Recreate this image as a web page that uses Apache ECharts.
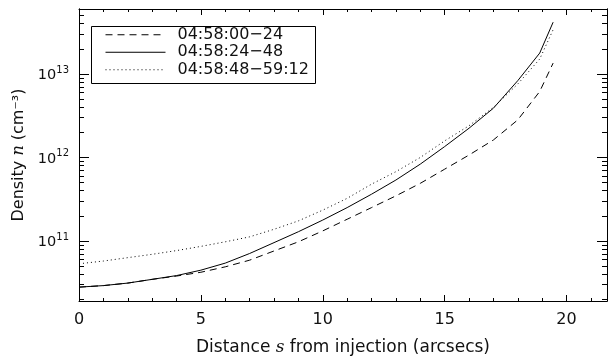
<!DOCTYPE html>
<html>
<head>
<meta charset="utf-8">
<script src="https://cdn.jsdelivr.net/npm/echarts@6/dist/echarts.min.js"></script>
<style>html,body{margin:0;padding:0;background:#fff}#c{width:609px;height:361px}</style>
</head>
<body>
<div id="c"></div>
<script>
// Distance s (arcsecs)
const distance = [0, 1, 2, 3, 4, 5, 6, 7, 8, 9, 10, 11, 12, 13, 14, 15, 16, 17, 18, 18.9, 19.45];
// Density n (cm^-3) for the three time intervals
const dens_0000_24 = [2.80e10, 2.92e10, 3.13e10, 3.47e10, 3.80e10, 4.22e10, 4.90e10, 5.89e10, 7.59e10, 9.77e10, 1.32e11, 1.82e11, 2.51e11, 3.47e11, 4.90e11, 7.24e11, 1.07e12, 1.62e12, 2.82e12, 6.17e12, 1.35e13];
const dens_2400_48 = [2.80e10, 2.92e10, 3.13e10, 3.47e10, 3.85e10, 4.47e10, 5.43e10, 7.08e10, 9.55e10, 1.29e11, 1.78e11, 2.51e11, 3.63e11, 5.37e11, 8.32e11, 1.35e12, 2.24e12, 3.89e12, 8.32e12, 1.78e13, 4.17e13];
const dens_4800_5912 = [5.33e10, 5.75e10, 6.31e10, 6.92e10, 7.67e10, 8.61e10, 9.77e10, 1.12e11, 1.38e11, 1.74e11, 2.34e11, 3.24e11, 4.79e11, 6.76e11, 1.00e12, 1.58e12, 2.40e12, 3.98e12, 7.59e12, 1.51e13, 3.39e13];
const seriesNames = ['04:58:00\u221224', '04:58:24\u221248', '04:58:48\u221259:12'];
// Axis ticks
const yMajorTicks = [1e11, 1e12, 1e13];
const yMinorTicks = [2e10, 3e10, 4e10, 5e10, 6e10, 7e10, 8e10, 9e10,
  2e11, 3e11, 4e11, 5e11, 6e11, 7e11, 8e11, 9e11,
  2e12, 3e12, 4e12, 5e12, 6e12, 7e12, 8e12, 9e12,
  2e13, 3e13, 4e13, 5e13];
const xMin = 0, xMax = 21.66, xInterval = 5;
const yMin = 1.91e10, yMax = 6.0e13;

const FONT = 'DejaVu Sans';
const TXT = '#111';
const pairs = arr => distance.map((d, i) => [d, arr[i]]);

function yAxisBase(position, showLabels, ticks, len) {
  return {
    type: 'log', logBase: 10, min: yMin, max: yMax, position: position, offset: 0,
    axisLine: { show: true, lineStyle: { color: '#000', width: 1 } },
    axisTick: { show: true, inside: true, length: len, customValues: ticks, lineStyle: { color: '#000', width: 1 } },
    axisLabel: showLabels ? {
      show: true, margin: 10, customValues: yMajorTicks,
      formatter: v => '{b|10}{s|' + Math.round(Math.log10(v)) + '}',
      rich: {
        b: { fontFamily: FONT, fontSize: 14.5, color: TXT, verticalAlign: 'bottom', lineHeight: 18 },
        s: { fontFamily: FONT, fontSize: 10, color: TXT, verticalAlign: 'top', lineHeight: 18, padding: [0, 0, 6, 0] }
      }
    } : { show: false },
    splitLine: { show: false },
    minorTick: { show: false }
  };
}

const chart = echarts.init(document.getElementById('c'), null, { renderer: 'canvas' });
chart.setOption({
  animation: false,
  backgroundColor: '#fff',
  grid: { left: 79, right: 2, top: 9, bottom: 54, containLabel: false },
  xAxis: [
    {
      type: 'value', min: xMin, max: xMax, interval: xInterval, position: 'bottom',
      axisLine: { show: true, onZero: false, lineStyle: { color: '#000', width: 1 } },
      axisTick: { show: true, inside: true, length: 6, lineStyle: { color: '#000' } },
      minorTick: { show: true, splitNumber: 5, length: 3, lineStyle: { color: '#000' } },
      axisLabel: { show: true, margin: 11, color: TXT, fontFamily: FONT, fontSize: 16, showMaxLabel: false },
      splitLine: { show: false },
      name: 'Distance {i|s} from injection (arcsecs)', nameLocation: 'middle', nameGap: 38,
      nameTextStyle: { color: TXT, fontFamily: FONT, fontSize: 17,
        rich: { i: { fontFamily: 'DejaVu Serif', fontStyle: 'italic', fontSize: 17, color: TXT } } }
    },
    {
      type: 'value', min: xMin, max: xMax, interval: xInterval, position: 'top',
      axisLine: { show: true, onZero: false, lineStyle: { color: '#000', width: 1 } },
      axisTick: { show: true, inside: true, length: 6, lineStyle: { color: '#000' } },
      minorTick: { show: true, splitNumber: 5, length: 3, lineStyle: { color: '#000' } },
      axisLabel: { show: false }, splitLine: { show: false }
    }
  ],
  yAxis: [
    Object.assign(yAxisBase('left', true, yMajorTicks, 10), {
      name: 'Density {i|n} (cm\u207B\u00B3)', nameLocation: 'middle', nameGap: 52, nameRotate: 90,
      nameTextStyle: { color: TXT, fontFamily: FONT, fontSize: 16,
        rich: { i: { fontFamily: 'DejaVu Serif', fontStyle: 'italic', fontSize: 16, color: TXT } } }
    }),
    yAxisBase('left', false, yMinorTicks, 5),
    yAxisBase('right', false, yMajorTicks, 10),
    yAxisBase('right', false, yMinorTicks, 5)
  ],
  legend: {
    show: true, orient: 'vertical', left: 105, top: 26, padding: 0,
    itemWidth: 60, itemHeight: 8, itemGap: 0,
    itemStyle: { opacity: 0 },
    lineStyle: { width: 1 },
    textStyle: { color: TXT, fontFamily: FONT, fontSize: 16, lineHeight: 17.5, padding: [0, 0, 0, 7] },
    data: seriesNames
  },
  graphic: [
    { type: 'rect', left: 89, top: 24, shape: { width: 224, height: 57 }, style: { fill: 'none', stroke: '#000', lineWidth: 1 }, z: 10 }
  ],
  series: [
    { name: seriesNames[0], type: 'line', xAxisIndex: 0, yAxisIndex: 0, data: pairs(dens_0000_24), symbol: 'none', smooth: false,
      lineStyle: { color: '#000', width: 1, type: [7, 5] }, itemStyle: { color: '#000' } },
    { name: seriesNames[1], type: 'line', xAxisIndex: 0, yAxisIndex: 0, data: pairs(dens_2400_48), symbol: 'none', smooth: false,
      lineStyle: { color: '#000', width: 1, type: 'solid' }, itemStyle: { color: '#000' } },
    { name: seriesNames[2], type: 'line', xAxisIndex: 0, yAxisIndex: 0, data: pairs(dens_4800_5912), symbol: 'none', smooth: false,
      lineStyle: { color: '#000', width: 1, type: [1, 3] }, itemStyle: { color: '#000' } }
  ]
});
</script>
</body>
</html>
